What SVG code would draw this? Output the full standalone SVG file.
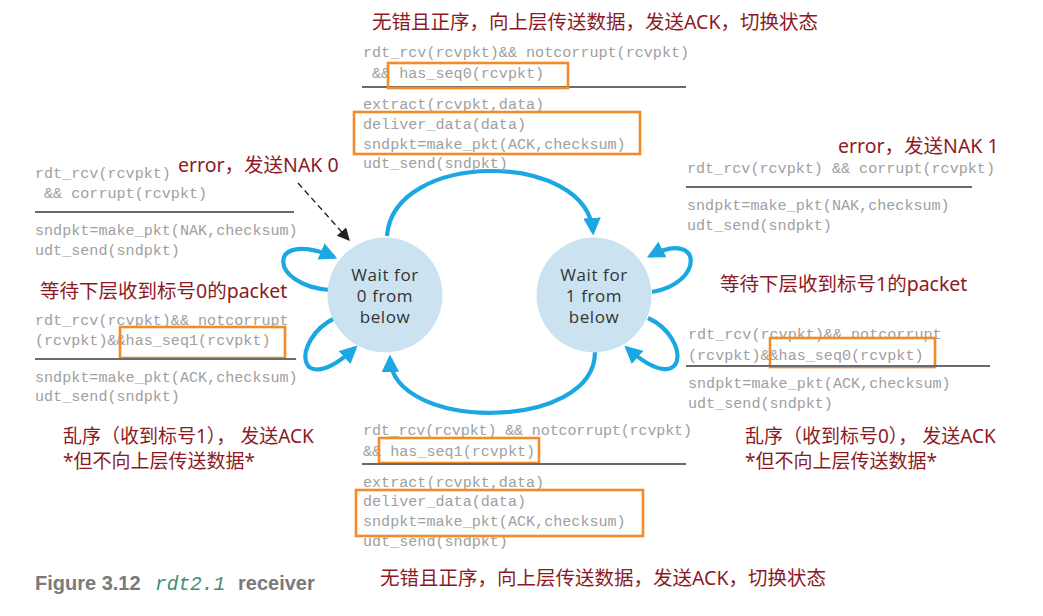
<svg xmlns="http://www.w3.org/2000/svg" width="1043" height="616" viewBox="0 0 1043 616">
<defs>
<marker id="ab" viewBox="0 0 10 10" refX="8" refY="5" markerWidth="4.2" markerHeight="4.2" orient="auto" markerUnits="strokeWidth"><path d="M0,0 L10,5 L0,10 z" fill="#1aa7e2"/></marker>
<marker id="ak" viewBox="0 0 10 10" refX="9" refY="5" markerWidth="9" markerHeight="9" orient="auto" markerUnits="strokeWidth"><path d="M0,0 L10,5 L0,10 z" fill="#222"/></marker>
<style>
.c{font-family:"Liberation Mono","DejaVu Sans Mono",monospace;font-size:15.1px;fill:#a0a0a0;white-space:pre}
.r{font-family:"Noto Sans","Noto Sans CJK SC",sans-serif;font-size:19.5px;fill:#8c1a24;white-space:pre}
.r2{font-size:19px}
.s{stroke:#6a6a6a;stroke-width:2;fill:none}
.o{stroke:#f58a2a;stroke-width:2.6;fill:none}
.st{fill:#cbe3f0}
.sl{font-family:"Open Sans","Liberation Sans",sans-serif;font-size:17px;letter-spacing:0.6px;fill:#333;text-anchor:middle}
.e{fill:none;stroke:#1aa7e2;stroke-width:4.2;marker-end:url(#ab)}
.cap{font-family:"Liberation Sans",Arial,sans-serif;font-weight:bold;font-size:20px;fill:#7a7a7a}
</style>
</defs>
<rect width="1043" height="616" fill="#fff"/>

<g id="connectors">
<path class="e" d="M387,236 C393,150 587,150 593,232"/>
<path class="e" d="M595,352 C595,432 392,432 390,358"/>
<path class="e" d="M330,290 C268,286 266,228 334,257"/>
<path class="e" d="M335,318 C290,340 296,402 355,348"/>
<path class="e" d="M652,292 C704,284 704,228 650,256"/>
<path class="e" d="M648,318 C692,338 688,402 627,348"/>
<path d="M298,183 L349,240" fill="none" stroke="#222" stroke-width="1.4" stroke-dasharray="6,4" marker-end="url(#ak)"/>
</g>

<g id="state0">
<circle class="st" cx="385" cy="295" r="57.5"/>
<text class="sl" x="385" y="281">Wait for</text>
<text class="sl" x="385" y="302">0 from</text>
<text class="sl" x="385" y="323">below</text>
</g>
<g id="state1">
<circle class="st" cx="594" cy="295" r="57.5"/>
<text class="sl" x="594" y="281">Wait for</text>
<text class="sl" x="594" y="302">1 from</text>
<text class="sl" x="594" y="323">below</text>
</g>

<g id="top-label">
<text class="r" x="372" y="29">无错且正序，向上层传送数据，发送ACK，切换状态</text>
<text class="c" x="363" y="57">rdt_rcv(rcvpkt)&amp;&amp; notcorrupt(rcvpkt)</text>
<text class="c" x="363" y="78"> &amp;&amp; has_seq0(rcvpkt)</text>
<line class="s" x1="362" y1="87" x2="686" y2="87"/>
<text class="c" x="363" y="109">extract(rcvpkt,data)</text>
<text class="c" x="363" y="129">deliver_data(data)</text>
<text class="c" x="363" y="149">sndpkt=make_pkt(ACK,checksum)</text>
<text class="c" x="363" y="168">udt_send(sndpkt)</text>
<rect class="o" x="388" y="63" width="180" height="25"/>
<rect class="o" x="354" y="112" width="286" height="42"/>
</g>

<g id="left-top-label">
<text class="r" x="178" y="172">error，发送NAK 0</text>
<text class="c" x="35" y="178">rdt_rcv(rcvpkt)</text>
<text class="c" x="35" y="198"> &amp;&amp; corrupt(rcvpkt)</text>
<line class="s" x1="35" y1="212" x2="294" y2="212"/>
<text class="c" x="35" y="235">sndpkt=make_pkt(NAK,checksum)</text>
<text class="c" x="35" y="255">udt_send(sndpkt)</text>
<text class="r" x="40" y="298">等待下层收到标号0的packet</text>
</g>

<g id="left-bottom-label">
<text class="c" x="35" y="325">rdt_rcv(rcvpkt)&amp;&amp; notcorrupt</text>
<text class="c" x="35" y="345">(rcvpkt)&amp;&amp;has_seq1(rcvpkt)</text>
<rect class="o" x="120" y="327" width="165" height="31"/>
<line class="s" x1="35" y1="359" x2="296" y2="359"/>
<text class="c" x="35" y="382">sndpkt=make_pkt(ACK,checksum)</text>
<text class="c" x="35" y="401">udt_send(sndpkt)</text>
<text class="r r2" x="63" y="443">乱序（收到标号1）， 发送ACK</text>
<text class="r r2" x="63" y="468">*但不向上层传送数据*</text>
</g>

<g id="right-top-label">
<text class="r" x="838" y="153">error，发送NAK 1</text>
<text class="c" x="687" y="173">rdt_rcv(rcvpkt) &amp;&amp; corrupt(rcvpkt)</text>
<line class="s" x1="686" y1="187" x2="972" y2="187"/>
<text class="c" x="687" y="210">sndpkt=make_pkt(NAK,checksum)</text>
<text class="c" x="687" y="230">udt_send(sndpkt)</text>
<text class="r" x="720" y="291">等待下层收到标号1的packet</text>
</g>

<g id="right-bottom-label">
<text class="c" x="688" y="339">rdt_rcv(rcvpkt)&amp;&amp; notcorrupt</text>
<text class="c" x="688" y="360">(rcvpkt)&amp;&amp;has_seq0(rcvpkt)</text>
<rect class="o" x="770" y="338" width="165" height="29"/>
<line class="s" x1="686" y1="366" x2="990" y2="366"/>
<text class="c" x="688" y="388">sndpkt=make_pkt(ACK,checksum)</text>
<text class="c" x="688" y="408">udt_send(sndpkt)</text>
<text class="r r2" x="745" y="443">乱序（收到标号0）， 发送ACK</text>
<text class="r r2" x="745" y="468">*但不向上层传送数据*</text>
</g>

<g id="bottom-label">
<text class="c" x="363" y="435" textLength="329">rdt_rcv(rcvpkt) &amp;&amp; notcorrupt(rcvpkt)</text>
<text class="c" x="363" y="456">&amp;&amp; has_seq1(rcvpkt)</text>
<rect class="o" x="379" y="438" width="160" height="25"/>
<line class="s" x1="362" y1="464" x2="686" y2="464"/>
<text class="c" x="363" y="487">extract(rcvpkt,data)</text>
<text class="c" x="363" y="506">deliver_data(data)</text>
<text class="c" x="363" y="526">sndpkt=make_pkt(ACK,checksum)</text>
<text class="c" x="363" y="546">udt_send(sndpkt)</text>
<rect class="o" x="356" y="490" width="287" height="46"/>
<text class="r" x="380" y="585">无错且正序，向上层传送数据，发送ACK，切换状态</text>
</g>

<g id="caption">
<text x="35" y="590"><tspan class="cap">Figure 3.12</tspan><tspan x="155" font-family="Liberation Mono,monospace" font-style="italic" font-size="19.5" fill="#3d8c74">rdt2.1</tspan><tspan class="cap" x="238">receiver</tspan></text>
</g>
</svg>
